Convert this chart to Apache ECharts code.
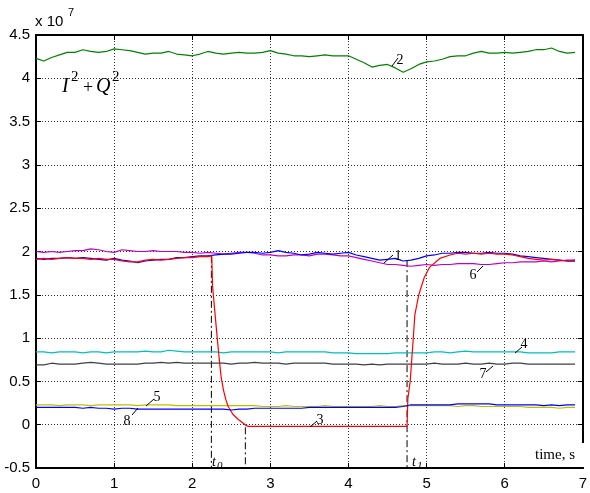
<!DOCTYPE html>
<html><head><meta charset="utf-8">
<script src="https://cdn.jsdelivr.net/npm/echarts@6/dist/echarts.min.js"></script>
<style>html,body{margin:0;padding:0;background:#fff}#c{width:590px;height:493px}</style>
</head><body><div id="c"></div>
<script>
// time axis (s)
const time = [0.0,0.1,0.2,0.3,0.4,0.5,0.6,0.7,0.8,0.9,1.0,1.1,1.2,1.3,1.4,1.5,1.6,1.7,1.8,1.9,2.0,2.1,2.2,2.3,2.4,2.5,2.6,2.7,2.8,2.9,3.0,3.1,3.2,3.3,3.4,3.5,3.6,3.7,3.8,3.9,4.0,4.1,4.2,4.3,4.4,4.5,4.6,4.7,4.8,4.9,5.0,5.1,5.2,5.3,5.4,5.5,5.6,5.7,5.8,5.9,6.0,6.1,6.2,6.3,6.4,6.5,6.6,6.7,6.8,6.9];
// values in units of 1e7
const s1 = [1.92,1.91,1.92,1.92,1.93,1.92,1.93,1.92,1.91,1.90,1.92,1.90,1.89,1.87,1.89,1.90,1.91,1.91,1.93,1.93,1.94,1.95,1.95,1.96,1.97,1.97,1.98,1.99,1.99,1.98,1.99,2.01,1.99,1.98,1.96,1.97,1.99,1.98,1.97,1.98,1.99,1.96,1.94,1.92,1.90,1.91,1.92,1.89,1.90,1.92,1.95,1.96,1.98,1.98,1.99,1.99,1.98,1.98,1.99,1.98,1.98,1.97,1.95,1.94,1.93,1.92,1.91,1.90,1.89,1.89];
const s2 = [4.23,4.20,4.24,4.27,4.30,4.30,4.33,4.31,4.30,4.31,4.34,4.33,4.32,4.30,4.28,4.29,4.29,4.31,4.28,4.27,4.26,4.28,4.31,4.29,4.28,4.29,4.30,4.29,4.29,4.30,4.32,4.29,4.28,4.26,4.26,4.25,4.26,4.27,4.26,4.26,4.26,4.22,4.18,4.13,4.15,4.16,4.12,4.07,4.11,4.16,4.19,4.20,4.22,4.25,4.26,4.26,4.29,4.31,4.29,4.29,4.30,4.29,4.30,4.31,4.33,4.33,4.35,4.31,4.29,4.30];
const s3Time = [0.0,0.1,0.2,0.3,0.4,0.5,0.6,0.7,0.8,0.9,1.0,1.1,1.2,1.3,1.4,1.5,1.6,1.7,1.8,1.9,2.0,2.1,2.2,2.25,2.26,2.29,2.32,2.35,2.37,2.40,2.43,2.46,2.52,2.59,2.65,2.69,2.72,3.0,3.5,4.0,4.5,4.75,4.76,4.79,4.82,4.85,4.90,4.97,5.04,5.17,5.3,5.4,5.5,5.6,5.7,5.8,5.9,6.0,6.1,6.2,6.3,6.4,6.5,6.6,6.7,6.8,6.9];
const s3 = [1.91,1.92,1.91,1.92,1.93,1.92,1.92,1.91,1.92,1.91,1.91,1.89,1.88,1.88,1.90,1.91,1.90,1.91,1.92,1.93,1.93,1.94,1.94,1.95,1.60,1.30,1.00,0.72,0.55,0.40,0.29,0.21,0.12,0.06,0.02,-0.01,-0.02,-0.02,-0.02,-0.02,-0.02,-0.02,0.30,0.50,0.88,1.27,1.50,1.70,1.82,1.92,1.96,1.98,1.97,1.98,1.97,1.98,1.97,1.97,1.96,1.94,1.92,1.91,1.90,1.91,1.90,1.89,1.90];
const s4 = [0.84,0.84,0.83,0.84,0.84,0.84,0.83,0.84,0.84,0.83,0.84,0.84,0.84,0.84,0.85,0.84,0.84,0.86,0.85,0.84,0.84,0.84,0.84,0.84,0.83,0.84,0.84,0.84,0.84,0.84,0.84,0.83,0.84,0.84,0.84,0.84,0.84,0.84,0.83,0.83,0.83,0.82,0.82,0.82,0.82,0.82,0.83,0.83,0.83,0.83,0.83,0.84,0.84,0.83,0.84,0.85,0.84,0.84,0.84,0.84,0.84,0.84,0.84,0.83,0.83,0.83,0.83,0.84,0.84,0.84];
const s5 = [0.23,0.23,0.23,0.22,0.23,0.23,0.23,0.22,0.23,0.23,0.23,0.23,0.23,0.22,0.23,0.23,0.23,0.23,0.22,0.22,0.22,0.22,0.22,0.22,0.22,0.22,0.22,0.22,0.22,0.21,0.21,0.21,0.22,0.21,0.21,0.21,0.21,0.22,0.21,0.21,0.21,0.21,0.21,0.21,0.22,0.21,0.21,0.22,0.22,0.22,0.22,0.22,0.22,0.22,0.21,0.22,0.22,0.21,0.21,0.21,0.21,0.21,0.21,0.20,0.20,0.20,0.20,0.19,0.20,0.20];
const s6 = [2.00,1.99,2.00,1.99,2.00,2.01,2.01,2.03,2.02,2.00,1.99,2.02,2.01,2.00,2.00,2.01,2.00,2.00,2.00,1.99,1.99,1.98,1.99,1.98,1.97,1.98,1.99,1.99,1.98,1.96,1.96,1.95,1.95,1.96,1.96,1.95,1.97,1.97,1.96,1.95,1.95,1.93,1.91,1.89,1.87,1.85,1.85,1.84,1.83,1.84,1.85,1.84,1.85,1.85,1.86,1.86,1.86,1.85,1.85,1.86,1.87,1.87,1.88,1.88,1.88,1.89,1.88,1.89,1.90,1.90];
const s7 = [0.69,0.69,0.71,0.70,0.70,0.70,0.71,0.72,0.71,0.70,0.70,0.70,0.70,0.70,0.71,0.71,0.72,0.71,0.72,0.71,0.71,0.71,0.71,0.71,0.71,0.70,0.71,0.71,0.72,0.71,0.71,0.71,0.70,0.71,0.71,0.71,0.71,0.71,0.70,0.70,0.70,0.70,0.69,0.70,0.69,0.70,0.70,0.70,0.70,0.70,0.70,0.71,0.70,0.70,0.70,0.71,0.70,0.70,0.71,0.70,0.70,0.71,0.71,0.70,0.70,0.70,0.70,0.70,0.70,0.70];
const s8 = [0.20,0.20,0.20,0.20,0.20,0.20,0.19,0.20,0.19,0.19,0.18,0.19,0.19,0.18,0.18,0.18,0.18,0.18,0.18,0.18,0.18,0.18,0.18,0.18,0.18,0.17,0.18,0.18,0.19,0.19,0.19,0.19,0.19,0.19,0.19,0.20,0.20,0.20,0.20,0.20,0.20,0.20,0.20,0.20,0.20,0.20,0.20,0.21,0.23,0.23,0.23,0.23,0.23,0.23,0.24,0.24,0.24,0.24,0.24,0.23,0.23,0.23,0.23,0.23,0.23,0.22,0.23,0.22,0.23,0.23];
// dash-dot marker lines: [x, yTop, yBottom]
const markerX = [2.245, 2.68, 4.75];
const markerTop = [1.95, -0.03, 1.90];
const markerBottom = [-0.5, -0.5, -0.5];
// axis ticks
const xTicks = [0,1,2,3,4,5,6,7];
const yTicks = [-0.5,0,0.5,1,1.5,2,2.5,3,3.5,4,4.5];

const pair = (t, v) => t.map((x, i) => [x, v[i]]);
const chart = echarts.init(document.getElementById('c'));
const lineS = (data, color, z) => ({type:'line', data, showSymbol:false, symbol:'none', silent:true, z,
  lineStyle:{color, width:1.2}, animation:false});
const series = [
  lineS(pair(time, s6), '#bf00bf', 2),
  lineS(pair(time, s1), '#0000ff', 3),
  lineS(pair(s3Time, s3), '#ff0000', 4),
  lineS(pair(time, s2), '#008000', 3),
  lineS(pair(time, s4), '#00bfbf', 3),
  lineS(pair(time, s7), '#404040', 3),
  lineS(pair(time, s5), '#bfbf00', 3),
  lineS(pair(time, s8), '#0000ff', 4)
];
markerX.forEach((x, i) => {
  series.push({type:'line', data:[[x, markerTop[i]],[x, markerBottom[i]]], showSymbol:false, symbol:'none', silent:true, z:1,
    lineStyle:{color:'#000', width:1, type:[7,3,2,3]}, animation:false});
});
const axisCommon = {
  axisLine:{show:true, onZero:false, lineStyle:{color:'#000', width:2}},
  axisTick:{show:true, inside:true, length:5, lineStyle:{color:'#000', width:1}},
};
const serif = '"Liberation Serif", "Times New Roman", serif';
const sans = '"Liberation Sans", Arial, sans-serif';
const notes = [
  ['1', 398, 256, 384, 263, 393, 255],
  ['2', 400, 60, 392, 66, 398, 58],
  ['3', 320, 420, 310, 427, 317, 421],
  ['4', 524, 344, 515, 353, 522, 347],
  ['5', 157, 397, 146, 406, 154, 399],
  ['6', 473, 275, 477, 272, 483, 266],
  ['7', 483, 374, 486, 372, 493, 366],
  ['8', 127, 421, 132, 415, 138, 408]
];
const graphics = [];
notes.forEach(n => {
  graphics.push({type:'text', z:50, style:{text:n[0], x:n[1], y:n[2], align:'center', verticalAlign:'middle', font:'14px ' + serif, fill:'#000'}});
  graphics.push({type:'line', z:50, shape:{x1:n[3], y1:n[4], x2:n[5], y2:n[6]}, style:{stroke:'#000', lineWidth:1}});
});
graphics.push(
  {type:'text', z:50, style:{text:'x 10', x:35, y:22, verticalAlign:'middle', font:'15px ' + sans, fill:'#000'}},
  {type:'text', z:50, style:{text:'7', x:68, y:13, verticalAlign:'middle', font:'11px ' + sans, fill:'#000'}},
  {type:'text', z:50, style:{text:'I', x:62, y:87, verticalAlign:'middle', font:'italic 20px ' + serif, fill:'#000'}},
  {type:'text', z:50, style:{text:'2', x:71, y:77, verticalAlign:'middle', font:'15px ' + serif, fill:'#000'}},
  {type:'text', z:50, style:{text:'+', x:83, y:88, verticalAlign:'middle', font:'18px ' + serif, fill:'#000'}},
  {type:'text', z:50, style:{text:'Q', x:96, y:87, verticalAlign:'middle', font:'italic 20px ' + serif, fill:'#000'}},
  {type:'text', z:50, style:{text:'2', x:112, y:77, verticalAlign:'middle', font:'15px ' + serif, fill:'#000'}},
  {type:'text', z:50, style:{text:'t', x:212, y:462, verticalAlign:'middle', font:'italic 14px ' + serif, fill:'#000'}},
  {type:'text', z:50, style:{text:'0', x:217, y:466, verticalAlign:'middle', font:'italic 11px ' + serif, fill:'#000'}},
  {type:'text', z:50, style:{text:'t', x:412, y:462, verticalAlign:'middle', font:'italic 14px ' + serif, fill:'#000'}},
  {type:'text', z:50, style:{text:'1', x:417, y:466, verticalAlign:'middle', font:'italic 11px ' + serif, fill:'#000'}},
  {type:'rect', z:60, shape:{x:532, y:443, width:58, height:24}, style:{fill:'#fff'}},
  {type:'text', z:61, style:{text:'time, s', x:535, y:455, verticalAlign:'middle', font:'15px ' + serif, fill:'#000'}}
);
chart.setOption({
  animation:false,
  backgroundColor:'#fff',
  grid:{left:36, right:3, top:35, bottom:25, containLabel:false},
  xAxis:[
    Object.assign({type:'value', min:xTicks[0], max:xTicks[xTicks.length-1], interval:1, position:'bottom',
      axisLabel:{color:'#000', fontFamily:sans, fontSize:15, margin:8},
      splitLine:{show:true, lineStyle:{color:'#333', width:1, type:[1,2]}}}, axisCommon),
    Object.assign({type:'value', min:xTicks[0], max:xTicks[xTicks.length-1], interval:1, position:'top',
      axisLabel:{show:false}, splitLine:{show:false}}, axisCommon)
  ],
  yAxis:[
    Object.assign({type:'value', min:yTicks[0], max:yTicks[yTicks.length-1], interval:0.5, position:'left',
      axisLabel:{color:'#000', fontFamily:sans, fontSize:15, margin:6},
      splitLine:{show:true, lineStyle:{color:'#333', width:1, type:[1,2]}}}, axisCommon),
    Object.assign({type:'value', min:yTicks[0], max:yTicks[yTicks.length-1], interval:0.5, position:'right',
      axisLabel:{show:false}, splitLine:{show:false}}, axisCommon)
  ],
  series,
  graphic:graphics
});
</script></body></html>
